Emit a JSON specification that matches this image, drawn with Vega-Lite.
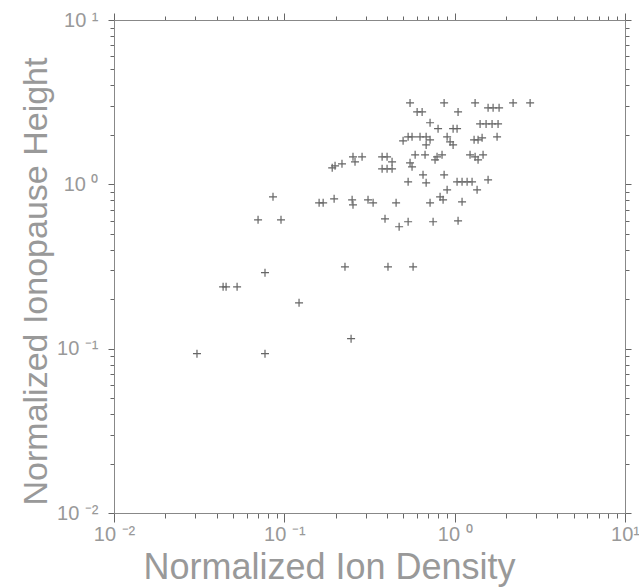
{
  "$schema": "https://vega.github.io/schema/vega-lite/v6.json",
  "autosize": "none",
  "width": 511,
  "height": 493,
  "padding": {"left": 114, "top": 20, "right": 14, "bottom": 74},
  "background": "white",
  "config": {"view": {"stroke": null}},
  "data": {"values": [
    {"d": 0.547, "h": 3.13}, {"d": 0.867, "h": 3.13}, {"d": 1.318, "h": 3.13}, {"d": 1.571, "h": 2.92},
    {"d": 1.681, "h": 2.92}, {"d": 1.823, "h": 2.92}, {"d": 2.203, "h": 3.13}, {"d": 2.773, "h": 3.13},
    {"d": 0.602, "h": 2.76}, {"d": 0.644, "h": 2.76}, {"d": 1.047, "h": 2.76}, {"d": 0.717, "h": 2.37},
    {"d": 0.799, "h": 2.18}, {"d": 0.979, "h": 2.18}, {"d": 1.033, "h": 2.18}, {"d": 1.41, "h": 2.33},
    {"d": 1.529, "h": 2.33}, {"d": 1.658, "h": 2.33}, {"d": 1.798, "h": 2.33}, {"d": 0.498, "h": 1.839},
    {"d": 0.533, "h": 1.945}, {"d": 0.562, "h": 1.945}, {"d": 0.626, "h": 1.945}, {"d": 0.68, "h": 1.945},
    {"d": 0.68, "h": 1.738}, {"d": 0.717, "h": 1.865}, {"d": 0.903, "h": 1.945}, {"d": 0.94, "h": 1.813},
    {"d": 0.979, "h": 1.738}, {"d": 1.3, "h": 1.865}, {"d": 1.372, "h": 1.865}, {"d": 1.449, "h": 1.918},
    {"d": 1.774, "h": 1.945}, {"d": 0.191, "h": 1.26}, {"d": 0.218, "h": 1.332}, {"d": 0.1985, "h": 1.296},
    {"d": 0.253, "h": 1.47}, {"d": 0.26, "h": 1.37}, {"d": 0.286, "h": 1.47}, {"d": 0.375, "h": 1.47},
    {"d": 0.401, "h": 1.47}, {"d": 0.429, "h": 1.37}, {"d": 0.375, "h": 1.242}, {"d": 0.401, "h": 1.242},
    {"d": 0.429, "h": 1.242}, {"d": 0.547, "h": 1.351}, {"d": 0.562, "h": 1.278}, {"d": 0.586, "h": 1.511},
    {"d": 0.67, "h": 1.511}, {"d": 0.767, "h": 1.409}, {"d": 0.788, "h": 1.47}, {"d": 0.843, "h": 1.511},
    {"d": 1.231, "h": 1.511}, {"d": 1.318, "h": 1.47}, {"d": 1.372, "h": 1.409}, {"d": 1.468, "h": 1.511},
    {"d": 0.533, "h": 1.036}, {"d": 0.652, "h": 1.142}, {"d": 0.68, "h": 1.021}, {"d": 0.867, "h": 1.142},
    {"d": 1.033, "h": 1.036}, {"d": 1.105, "h": 1.036}, {"d": 1.183, "h": 1.036}, {"d": 1.265, "h": 1.036},
    {"d": 1.571, "h": 1.065}, {"d": 1.354, "h": 0.926}, {"d": 0.903, "h": 0.926}, {"d": 0.16, "h": 0.772},
    {"d": 0.169, "h": 0.772}, {"d": 0.196, "h": 0.816}, {"d": 0.25, "h": 0.805}, {"d": 0.253, "h": 0.75},
    {"d": 0.31, "h": 0.805}, {"d": 0.332, "h": 0.772}, {"d": 0.453, "h": 0.772}, {"d": 0.717, "h": 0.772},
    {"d": 0.821, "h": 0.839}, {"d": 0.855, "h": 0.805}, {"d": 1.105, "h": 0.783}, {"d": 0.39, "h": 0.617},
    {"d": 0.472, "h": 0.552}, {"d": 0.533, "h": 0.592}, {"d": 0.747, "h": 0.592}, {"d": 1.047, "h": 0.6},
    {"d": 0.227, "h": 0.315}, {"d": 0.406, "h": 0.315}, {"d": 0.57, "h": 0.315}, {"d": 0.2465, "h": 0.115},
    {"d": 0.0858, "h": 0.839}, {"d": 0.0701, "h": 0.608}, {"d": 0.0956, "h": 0.608}, {"d": 0.077, "h": 0.29},
    {"d": 0.0437, "h": 0.238}, {"d": 0.0455, "h": 0.238}, {"d": 0.0528, "h": 0.238}, {"d": 0.122, "h": 0.19},
    {"d": 0.0307, "h": 0.0932}, {"d": 0.077, "h": 0.0932}
  ]},
  "layer": [
    {
      "mark": {"type": "point", "shape": "M-1,0L1,0M0,-1L0,1", "filled": false, "size": 64, "stroke": "#666", "strokeWidth": 1.2, "opacity": 1},
      "encoding": {
        "x": {"field": "d", "type": "quantitative",
          "scale": {"type": "log", "domain": [0.01, 10], "nice": false},
          "axis": {"orient": "bottom", "title": "Normalized Ion Density",
            "values": [0.01,0.02,0.03,0.04,0.05,0.06,0.07,0.08,0.09,0.1,0.2,0.3,0.4,0.5,0.6,0.7,0.8,0.9,1,2,3,4,5,6,7,8,9,10],
            "labelExpr": "datum.value == 0.01 ? '10 ⁻²' : datum.value == 0.1 ? '10 ⁻¹' : datum.value == 1 ? '10 ⁰' : datum.value == 10 ? '10¹' : ''",
            "labelOverlap": false, "labelBound": false, "labelFlush": false,
            "labelFont": "Liberation Sans", "labelFontSize": 20, "labelColor": "#999", "labelPadding": 2,
            "tickSize": {"condition": {"test": "datum.value == 0.01 || datum.value == 0.1 || datum.value == 1 || datum.value == 10", "value": 9}, "value": 5},
            "tickColor": "#666", "domainColor": "#888", "grid": false,
            "titleFont": "Liberation Sans", "titleFontSize": 36, "titleFontWeight": "normal", "titleColor": "#999",
            "titleBaseline": "alphabetic", "titleAlign": "center", "titleX": 215, "titleY": 65}
        },
        "y": {"field": "h", "type": "quantitative",
          "scale": {"type": "log", "domain": [0.01, 10], "nice": false},
          "axis": {"orient": "left", "title": "Normalized Ionopause Height",
            "values": [0.01,0.02,0.03,0.04,0.05,0.06,0.07,0.08,0.09,0.1,0.2,0.3,0.4,0.5,0.6,0.7,0.8,0.9,1,2,3,4,5,6,7,8,9,10],
            "labelExpr": "datum.value == 0.01 ? '10 ⁻²' : datum.value == 0.1 ? '10 ⁻¹' : datum.value == 1 ? '10 ⁰' : datum.value == 10 ? '10 ¹' : ''",
            "labelOverlap": false, "labelBound": false, "labelFlush": false,
            "labelFont": "Liberation Sans", "labelFontSize": 20, "labelColor": "#999", "labelPadding": 10,
            "tickSize": {"condition": {"test": "datum.value == 0.01 || datum.value == 0.1 || datum.value == 1 || datum.value == 10", "value": 6}, "value": 4},
            "tickColor": "#666", "domainColor": "#888", "grid": false,
            "titleFont": "Liberation Sans", "titleFontSize": 34, "titleFontWeight": "normal", "titleColor": "#999",
            "titleBaseline": "alphabetic", "titleAlign": "center", "titleAngle": -90, "titleX": -68, "titleY": 261}
        }
      }
    },
    {
      "mark": {"type": "point", "opacity": 0},
      "encoding": {
        "x": {"field": "d", "type": "quantitative",
          "scale": {"type": "log", "domain": [0.01, 10], "nice": false},
          "axis": {"orient": "top", "title": null, "labels": false,
            "values": [0.01,0.02,0.03,0.04,0.05,0.06,0.07,0.08,0.09,0.1,0.2,0.3,0.4,0.5,0.6,0.7,0.8,0.9,1,2,3,4,5,6,7,8,9,10],
            "tickSize": {"condition": {"test": "datum.value == 0.01 || datum.value == 0.1 || datum.value == 1 || datum.value == 10", "value": 7}, "value": 4},
            "tickColor": "#666", "domainColor": "#888", "grid": false}
        },
        "y": {"field": "h", "type": "quantitative",
          "scale": {"type": "log", "domain": [0.01, 10], "nice": false},
          "axis": {"orient": "right", "title": null, "labels": false,
            "values": [0.01,0.02,0.03,0.04,0.05,0.06,0.07,0.08,0.09,0.1,0.2,0.3,0.4,0.5,0.6,0.7,0.8,0.9,1,2,3,4,5,6,7,8,9,10],
            "tickSize": {"condition": {"test": "datum.value == 0.01 || datum.value == 0.1 || datum.value == 1 || datum.value == 10", "value": 6}, "value": 4},
            "tickColor": "#666", "domainColor": "#888", "grid": false}
        }
      }
    }
  ],
  "resolve": {"axis": {"x": "independent", "y": "independent"}}
}
